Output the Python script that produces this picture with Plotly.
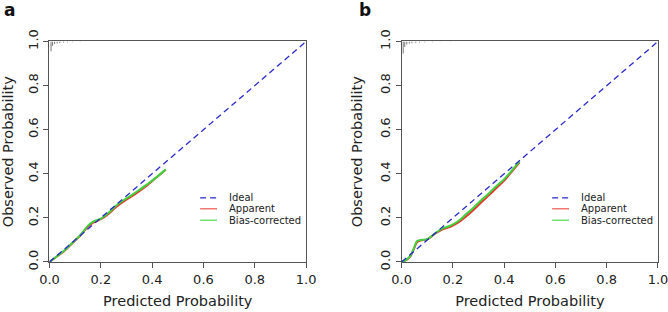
import plotly.graph_objects as go

# ---------------- data ----------------
ideal_x = [0.0, 1.0]
ideal_y = [0.0, 1.0]

# panel a
a_x = [0.0, 0.03, 0.06, 0.09, 0.12, 0.15, 0.17, 0.20, 0.23, 0.26, 0.29, 0.32, 0.35, 0.38, 0.41, 0.453]
a_apparent = [0.0, 0.026, 0.052, 0.086, 0.120, 0.160, 0.178, 0.194, 0.218, 0.250, 0.275, 0.297, 0.321, 0.347, 0.376, 0.418]
a_corrected = [0.0, 0.027, 0.054, 0.088, 0.122, 0.165, 0.183, 0.197, 0.223, 0.256, 0.281, 0.303, 0.327, 0.352, 0.378, 0.420]

# panel b
b_x = [0.0, 0.02, 0.035, 0.05, 0.06, 0.075, 0.10, 0.13, 0.16, 0.19, 0.22, 0.25, 0.28, 0.31, 0.34, 0.37, 0.40, 0.43, 0.46]
b_apparent = [0.0, 0.010, 0.028, 0.065, 0.090, 0.098, 0.103, 0.128, 0.148, 0.160, 0.178, 0.205, 0.236, 0.270, 0.302, 0.336, 0.369, 0.410, 0.452]
b_corrected = [0.0, 0.012, 0.030, 0.070, 0.095, 0.100, 0.104, 0.130, 0.152, 0.165, 0.185, 0.215, 0.246, 0.280, 0.311, 0.345, 0.376, 0.415, 0.456]

# distribution of predicted probabilities (spikes hanging from the top)
a_rug_x = [0.006, 0.012, 0.020, 0.030, 0.040, 0.055, 0.070, 0.090, 0.120]
a_rug_h = [0.045, 0.020, 0.012, 0.009, 0.007, 0.005, 0.004, 0.003, 0.002]
b_rug_x = [0.006, 0.012, 0.020, 0.030, 0.040, 0.055, 0.070, 0.090, 0.120, 0.150, 0.190]
b_rug_h = [0.055, 0.025, 0.014, 0.010, 0.008, 0.006, 0.005, 0.004, 0.003, 0.002, 0.002]

legend_labels = ["Ideal", "Apparent", "Bias-corrected"]
panel_labels = ["a", "b"]
x_title = "Predicted Probability"
y_title = "Observed Probability"
tick_vals = [0.0, 0.2, 0.4, 0.6, 0.8, 1.0]
tick_text = ["0.0", "0.2", "0.4", "0.6", "0.8", "1.0"]

# ---------------- styles ----------------
C_IDEAL = "#2a2acc"
C_APP = "#e8342c"
C_BC = "#3fd23f"
C_AX = "#555555"
FONT = "DejaVu Sans"

fig = go.Figure()

panels = [
    ("x", "y", a_x, a_apparent, a_corrected, a_rug_x, a_rug_h),
    ("x2", "y2", b_x, b_apparent, b_corrected, b_rug_x, b_rug_h),
]

for xa, ya, px, papp, pbc, rx, rh in panels:
    # rug spikes
    sx, sy = [], []
    for xv, hv in zip(rx, rh):
        sx += [xv, xv, None]
        sy += [1.0, 1.0 - hv, None]
    fig.add_trace(go.Scatter(x=sx, y=sy, mode="lines", xaxis=xa, yaxis=ya,
                             line=dict(color="#777777", width=1), showlegend=False,
                             hoverinfo="skip"))
    fig.add_trace(go.Scatter(x=px, y=papp, mode="lines", xaxis=xa, yaxis=ya,
                             line=dict(color=C_APP, width=2, shape="spline"),
                             name="Apparent", showlegend=False))
    fig.add_trace(go.Scatter(x=px, y=pbc, mode="lines", xaxis=xa, yaxis=ya,
                             line=dict(color=C_BC, width=2, shape="spline"),
                             name="Bias-corrected", showlegend=False))
    fig.add_trace(go.Scatter(x=ideal_x, y=ideal_y, mode="lines", xaxis=xa, yaxis=ya,
                             line=dict(color=C_IDEAL, width=1.3, dash="6px,4px"),
                             name="Ideal", showlegend=False))

    # manual legend (compact, as in the R output)
    leg_rows = [0.291, 0.241, 0.189]
    leg_styles = [dict(color=C_IDEAL, width=1.3, dash="6px,4px"),
                  dict(color="#f07a72", width=1.5),
                  dict(color="#70e070", width=1.5)]
    for lab, ry, st in zip(legend_labels, leg_rows, leg_styles):
        fig.add_shape(type="line", xref=xa, yref=ya, x0=0.587, x1=0.653, y0=ry, y1=ry,
                      line=st)
        fig.add_annotation(xref=xa, yref=ya, x=0.692, y=ry, text=lab, showarrow=False,
                           xanchor="left", yanchor="middle",
                           font=dict(family=FONT, size=10, color="#222222"))

axis_common = dict(range=[0, 1], showline=True, mirror=True, linecolor=C_AX, linewidth=1,
                   showgrid=False, zeroline=False, ticks="outside", ticklen=5,
                   tickcolor=C_AX, tickvals=tick_vals, ticktext=tick_text, automargin=False,
                   ticklabeloverflow="allow",
                   tickfont=dict(family=FONT, size=13, color="#222222"))

fig.update_layout(
    width=668, height=312,
    margin=dict(l=0, r=0, t=0, b=0),
    paper_bgcolor="white", plot_bgcolor="white",
    showlegend=False,
    xaxis=dict(domain=[0.0741, 0.4582], anchor="y",
               title=dict(text=x_title, standoff=10, font=dict(family=FONT, size=14.5, color="#222222")),
               **axis_common),
    yaxis=dict(domain=[0.1603, 0.867], anchor="x", tickangle=-90,
               title=dict(text=y_title, standoff=12, font=dict(family=FONT, size=14.5, color="#222222")),
               **axis_common),
    xaxis2=dict(domain=[0.6013, 0.985], anchor="y2",
                title=dict(text=x_title, standoff=10, font=dict(family=FONT, size=14.5, color="#222222")),
                **axis_common),
    yaxis2=dict(domain=[0.1603, 0.867], anchor="x2", tickangle=-90,
                title=dict(text=y_title, standoff=12, font=dict(family=FONT, size=14.5, color="#222222")),
                **axis_common),
)

for lab, xp in zip(panel_labels, [9.5 / 668, 365 / 668]):
    fig.add_annotation(xref="paper", yref="paper", x=xp, y=1 - 10 / 312, text="<b>%s</b>" % lab,
                       showarrow=False, xanchor="center", yanchor="middle",
                       font=dict(family=FONT, size=17, color="#111111"))

# remove the browser's default 8px page margin so the 668x312 figure fills the window
fig.write_html("out.html", config={"displayModeBar": False},
               post_script="document.body.style.margin='0';")
